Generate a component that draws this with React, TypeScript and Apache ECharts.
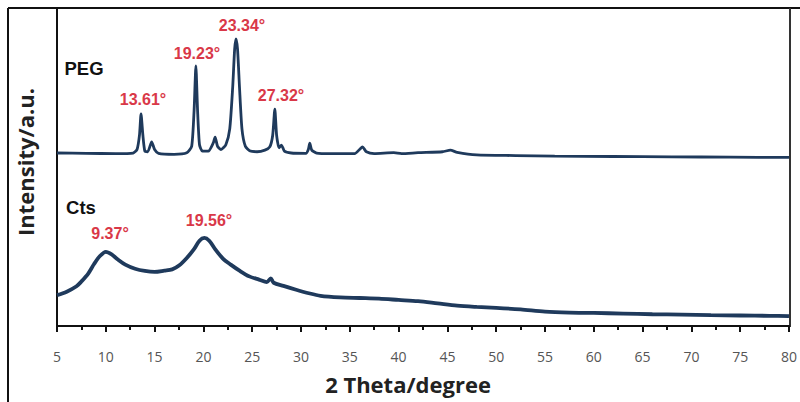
import React, { useEffect, useRef } from "react";
import * as echarts from "echarts";

// 2θ (degree) and relative intensity (a.u.)
const pegTheta = [5, 8, 11, 12.8, 13.2, 13.45, 13.61, 13.8, 14.0, 14.3, 14.7, 15.0, 15.4, 17, 18.3, 18.8, 19.05, 19.23, 19.4, 19.6, 19.9, 20.5, 21.0, 21.2, 21.45, 21.8, 22.3, 22.7, 23.0, 23.2, 23.34, 23.5, 23.7, 23.95, 24.3, 24.8, 25.5, 26.3, 26.8, 27.1, 27.32, 27.5, 27.75, 28.0, 28.3, 29, 30.5, 30.75, 30.9, 31.1, 31.6, 33, 35.5, 36.0, 36.3, 36.7, 37.5, 39.5, 40.3, 42, 44.5, 45.3, 46, 48, 52, 56, 62, 68, 74, 80];
const pegIntensity = [54.4, 54.3, 54.2, 54.4, 55.5, 60, 66.7, 60, 55, 54.8, 57.9, 55.5, 54.3, 54.0, 54.5, 56.5, 68, 81.8, 68, 57, 55, 55, 57.5, 59.4, 56.5, 55.5, 57, 62, 75, 87, 90.3, 87, 75, 62, 56.5, 55, 54.8, 55.3, 56.3, 60, 68.2, 60, 56, 56.9, 55, 54.4, 54.3, 55.5, 57.5, 55.3, 54.4, 54.2, 54.2, 55.5, 56.3, 54.8, 54.2, 54.5, 54.2, 54.5, 54.8, 55.3, 54.6, 53.8, 53.6, 53.4, 53.3, 53.2, 53.1, 53.0];

const ctsTheta = [5, 6, 7, 7.5, 8.2, 8.8, 9.4, 10.0, 10.6, 11.2, 12.0, 13.0, 14.0, 15.0, 16.0, 16.8, 17.5, 18.3, 19.0, 19.6, 20.1, 20.6, 21.2, 22.0, 22.8, 23.7, 24.7, 25.7, 26.5, 26.9, 27.2, 28.2, 29.5, 30.8, 32, 34, 36, 38, 40, 42, 44, 46, 48, 50, 52.5, 55, 57.5, 60, 63, 66, 69, 72, 75, 78, 80];
const ctsIntensity = [9.7, 10.8, 12.5, 14, 16.5, 19.5, 22, 23.3, 22.5, 21, 19.3, 18, 17.3, 17, 17.4, 17.8, 19, 21.4, 24, 26.8, 27.7, 26.8, 24.2, 21.2, 19.3, 17.4, 15.6, 14.6, 13.8, 15, 13.6, 12.6, 11.4, 10.3, 9.5, 9, 8.8, 8.6, 8.2, 7.8, 7.1, 6.4, 6.0, 5.7, 5.2, 4.5, 4.2, 4.1, 3.9, 3.7, 3.6, 3.4, 3.3, 3.2, 3.1];

const xTickMin = 5;
const xTickMax = 80;
const xTickStep = 5;

const sampleLabels = ["PEG", "Cts"];
const peakLabels = ["13.61°", "19.23°", "23.34°", "27.32°", "9.37°", "19.56°"];
const xTitle = "2 Theta/degree";
const yTitle = "Intensity/a.u.";

const LINE = "#1f3a5c";
const RED = "#d93848";

export default function App() {
  const ref = useRef<HTMLDivElement>(null);
  useEffect(() => {
    if (!ref.current) return;
    const chart = echarts.init(ref.current, null, { renderer: "svg" });
    const peg = pegTheta.map((t, i) => [t, pegIntensity[i]]);
    const cts = ctsTheta.map((t, i) => [t, ctsIntensity[i]]);
    const peakPos = [
      [143, 99],
      [197, 53],
      [242, 25],
      [281, 95],
      [110, 233],
      [209, 220],
    ];
    chart.setOption({
      animation: false,
      backgroundColor: "#ffffff",
      grid: { left: 57, right: 10, top: 8, bottom: 76 },
      xAxis: {
        type: "value",
        min: xTickMin,
        max: xTickMax,
        interval: xTickStep,
        axisLine: { show: true, lineStyle: { color: "#111", width: 2 } },
        axisTick: { show: true, inside: false, length: 6, lineStyle: { color: "#111", width: 2 } },
        minorTick: { show: true, splitNumber: 2, length: 4, lineStyle: { color: "#111", width: 2 } },
        axisLabel: { color: "#555", fontSize: 14, margin: 23, fontFamily: "Open Sans" },
        splitLine: { show: false },
      },
      yAxis: {
        type: "value",
        min: 0,
        max: 100,
        axisLine: { show: true, lineStyle: { color: "#111", width: 2 } },
        axisTick: { show: false },
        axisLabel: { show: false },
        splitLine: { show: false },
      },
      series: [
        {
          type: "line",
          name: "PEG",
          data: peg,
          showSymbol: false,
          smooth: 0.2,
          lineStyle: { color: LINE, width: 2.8 },
        },
        {
          type: "line",
          name: "Cts",
          data: cts,
          showSymbol: false,
          smooth: 0.3,
          lineStyle: { color: LINE, width: 3.8 },
        },
      ],
      graphic: [
        { type: "line", shape: { x1: 8, y1: 8, x2: 800, y2: 8 }, style: { stroke: "#111", lineWidth: 2 } },
        { type: "line", shape: { x1: 8, y1: 8, x2: 8, y2: 402 }, style: { stroke: "#111", lineWidth: 2 } },
        { type: "line", shape: { x1: 790, y1: 8, x2: 790, y2: 327 }, style: { stroke: "#333", lineWidth: 2 } },
        {
          type: "text",
          x: 84,
          y: 68,
          style: { text: sampleLabels[0], fill: "#111", font: "bold 18.5px 'Liberation Sans', Arial", align: "center", verticalAlign: "middle" },
        },
        {
          type: "text",
          x: 81,
          y: 207,
          style: { text: sampleLabels[1], fill: "#111", font: "bold 18.5px 'Liberation Sans', Arial", align: "center", verticalAlign: "middle" },
        },
        ...peakLabels.map((t, i) => ({
          type: "text",
          x: peakPos[i][0],
          y: peakPos[i][1],
          style: { text: t, fill: RED, font: "bold 16px 'Liberation Sans', Arial", align: "center", verticalAlign: "middle" },
        })),
        {
          type: "text",
          x: 408,
          y: 384,
          style: { text: xTitle, fill: "#222", font: "bold 22px 'Open Sans'", align: "center", verticalAlign: "middle" },
        },
        {
          type: "text",
          x: 25,
          y: 162,
          rotation: Math.PI / 2,
          style: { text: yTitle, fill: "#222", font: "bold 22px 'Open Sans'", align: "center", verticalAlign: "middle" },
        },
      ],
    });
    return () => chart.dispose();
  }, []);
  return (
    <div
      ref={ref}
      style={{ position: "fixed", left: 0, top: 0, width: 800, height: 402 }}
    />
  );
}
